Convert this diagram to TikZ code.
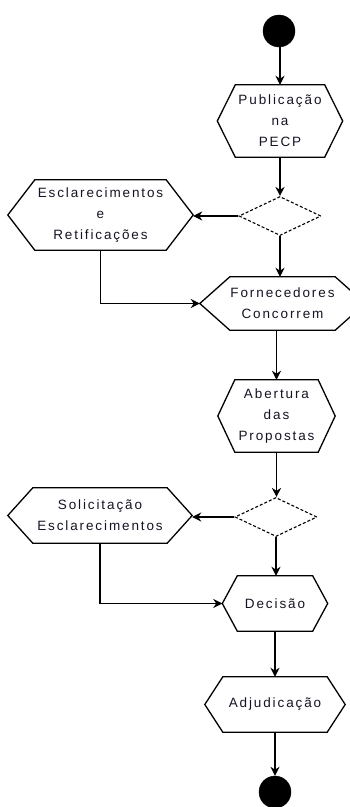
\documentclass[tikz,border=0pt]{standalone}
\usepackage{fontspec}
\setmainfont{Liberation Sans}
\usetikzlibrary{arrows.meta,shapes.geometric}

\definecolor{inkline}{HTML}{000000}
\definecolor{inktext}{HTML}{141424}

% outline of a hexagonal activity box around a named node, with the given tip inset
\newcommand{\hexoutline}[2]{%
  \draw[hexline] (#1.west) -- ([xshift=#2]#1.north west) -- ([xshift=-#2]#1.north east)
    -- (#1.east) -- ([xshift=-#2]#1.south east) -- ([xshift=#2]#1.south west) -- cycle;%
}

\tikzset{
  hexlabel/.style={draw=none, inner sep=0pt, align=center, text=inktext,
    font=\hexfont},
  hexline/.style={draw=inkline, line width=1.3pt, line join=miter},
  choice/.style={diamond, draw=inkline, dash pattern=on 3pt off 2pt, line width=1.1pt,
    inner sep=0pt, minimum width=82pt, minimum height=39pt},
  terminal/.style={circle, fill=black, draw=black, inner sep=0pt, minimum size=32pt},
  flow/.style={draw=inkline, line width=1.6pt, -{Stealth[length=9pt,width=9pt]}},
}
\newfontfamily\hexfamily[LetterSpace=14]{Liberation Sans}
\newcommand{\hexfont}{\hexfamily\fontsize{13.5}{21}\selectfont}

\begin{document}
\begin{tikzpicture}[x=1pt, y=-1pt]
  \useasboundingbox (0,0) rectangle (350,807);
  \clip (0,0) rectangle (350,807);

  % start and end markers
  \node[terminal] (start) at (279,31) {};
  \node[terminal] (finish) at (275,792) {};

  % activities
  \node[hexlabel, minimum width=125pt, minimum height=72pt] (pub) at (280,121) {Publicação\\na\\PECP};
  \hexoutline{pub}{18pt}
  \node[hexlabel, minimum width=185pt, minimum height=70pt] (escl) at (100.5,215) {Esclarecimentos\\e\\Retificações};
  \hexoutline{escl}{27pt}
  \node[hexlabel, minimum width=165pt, minimum height=53pt] (forn) at (282.5,303.5) {Fornecedores\\Concorrem};
  \hexoutline{forn}{30pt}
  \node[hexlabel, minimum width=117pt, minimum height=72pt] (abert) at (276.5,416) {Abertura\\das\\Propostas};
  \hexoutline{abert}{17pt}
  \node[hexlabel, minimum width=184pt, minimum height=55pt] (solic) at (100,515.5) {Solicitação\\Esclarecimentos};
  \hexoutline{solic}{25pt}
  \node[hexlabel, minimum width=105pt, minimum height=55pt] (dec) at (275,603.5) {Decisão};
  \hexoutline{dec}{15pt}
  \node[hexlabel, minimum width=140pt, minimum height=55pt] (adj) at (275,704.5) {Adjudicação};
  \hexoutline{adj}{18pt}

  % decisions
  \node[choice] (d1) at (280,216) {};
  \node[choice] (d2) at (276,517) {};

  % connectors
  \draw[flow] (start.south -| pub.north) -- (pub.north);
  \draw[flow] (pub.south) -- (pub.south |- d1.north);
  \draw[flow] (d1.west) -- (d1.west -| escl.east);
  \draw[flow] (d1.south) -- (d1.south |- forn.north);
  \draw[flow] (escl.south) |- (forn.west);
  \draw[flow] (forn.south -| abert.north) -- (abert.north);
  \draw[flow] (abert.south) -- (abert.south |- d2.north);
  \draw[flow] (d2.west) -- (d2.west -| solic.east);
  \draw[flow] (d2.south) -- (d2.south |- dec.north);
  \draw[flow] (solic.south) |- (dec.west);
  \draw[flow] (dec.south) -- (adj.north);
  \draw[flow] (adj.south) -- (finish.north);
\end{tikzpicture}
\end{document}
